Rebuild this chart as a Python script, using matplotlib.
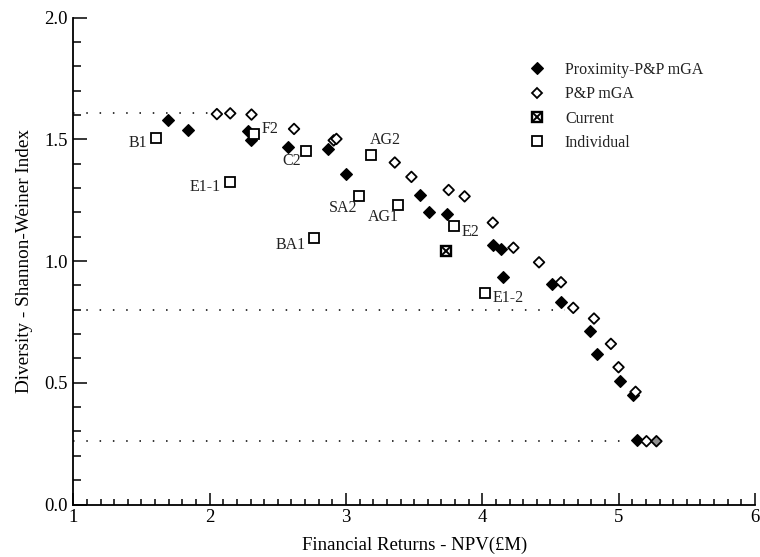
import matplotlib
matplotlib.use("Agg")
import matplotlib.pyplot as plt
from matplotlib.lines import Line2D
from matplotlib.legend_handler import HandlerTuple
from matplotlib.ticker import MultipleLocator

plt.rcParams['font.family'] = ['Liberation Serif', 'DejaVu Serif']

# ---- data ----
prox_x = [1.697, 1.839, 2.278, 2.302, 2.578, 2.868, 3.002, 3.546, 3.607, 3.741,
          4.075, 4.138, 4.150, 4.514, 4.577, 4.792, 4.838, 5.009, 5.106, 5.131]
prox_y = [1.581, 1.537, 1.533, 1.499, 1.467, 1.462, 1.358, 1.272, 1.202, 1.192,
          1.068, 1.048, 0.934, 0.904, 0.831, 0.712, 0.619, 0.509, 0.448, 0.264]

pp_x = [2.053, 2.151, 2.307, 2.619, 2.910, 2.930, 3.358, 3.480, 3.753, 3.870,
        4.077, 4.228, 4.416, 4.577, 4.667, 4.819, 4.943, 4.999, 5.124, 5.204, 5.277]
pp_y = [1.604, 1.607, 1.602, 1.543, 1.496, 1.502, 1.405, 1.346, 1.292, 1.266,
        1.158, 1.055, 0.995, 0.913, 0.808, 0.764, 0.660, 0.564, 0.463, 0.260, 0.260]

current_x = [3.734]
current_y = [1.043]

indiv_names = ['B1', 'E1-1', 'F2', 'C2', 'BA1', 'SA2', 'AG2', 'AG1', 'E2', 'E1-2']
indiv_x = [1.605, 2.149, 2.327, 2.709, 2.765, 3.097, 3.180, 3.380, 3.790, 4.016]
indiv_y = [1.504, 1.324, 1.521, 1.451, 1.095, 1.268, 1.436, 1.231, 1.145, 0.867]

# reference (dotted) levels and their right-hand ends
ref_levels = [1.61, 0.80, 0.26]
ref_ends = [1.985, 4.607, 5.08]

x_ticks = [1, 2, 3, 4, 5, 6]
y_ticks = [0.0, 0.5, 1.0, 1.5, 2.0]

# ---- figure ----
fig = plt.figure(figsize=(7.6, 5.57), dpi=100)
ax = fig.add_axes([73.3 / 760, (557 - 504.5) / 557, (755 - 73.3) / 760, (504.5 - 17.7) / 557])

for lvl, end in zip(ref_levels, ref_ends):
    ax.plot([1, end], [lvl, lvl], color='black', lw=1.1, linestyle=(0, (1, 7.7)), zorder=1)

D_FILL = dict(marker='D', ms=5.8, mfc='black', mec='black', mew=0.8)
D_OPEN = dict(marker='D', ms=5.4, mfc='white', mec='black', mew=1.3)
SQ = dict(marker='s', ms=7.0, mfc='white', mec='black', mew=1.3)
SQ_CUR = dict(marker='s', ms=7.0, mfc='white', mec='black', mew=1.7)
X_CUR = dict(marker='x', ms=5.2, mec='black', mew=1.4)

ax.plot(prox_x, prox_y, linestyle='none', zorder=3, **D_FILL)
pp_face = ['white'] * (len(pp_x) - 1) + ['#909090']
ax.scatter(pp_x, pp_y, marker='D', s=5.4 ** 2, facecolors=pp_face, edgecolors='black',
           linewidths=1.3, zorder=4)
ax.plot(indiv_x, indiv_y, linestyle='none', zorder=3, **SQ)
ax.plot(current_x, current_y, linestyle='none', zorder=3, **SQ_CUR)
ax.plot(current_x, current_y, linestyle='none', zorder=4, **X_CUR)

label_offsets_px = {
    'B1': (-18, -4.6), 'E1-1': (-25, -5), 'F2': (16, 5.7), 'C2': (-14.7, -10),
    'BA1': (-23.3, -6.7), 'SA2': (-16, -12), 'AG2': (15, 14.6), 'AG1': (-14.6, -12),
    'E2': (16.7, -6), 'E1-2': (24, -4.3),
}
for name, x, y in zip(indiv_names, indiv_x, indiv_y):
    dx, dy = label_offsets_px[name]
    ax.annotate(name, (x, y), xytext=(dx * 0.72, dy * 0.72), textcoords='offset points',
                ha='center', va='center', fontsize=11.5, color='#222222')

ax.set_xlim(1, 6)
ax.set_ylim(0, 2.0)
ax.set_xticks(x_ticks)
ax.set_xticklabels([str(t) for t in x_ticks])
ax.set_yticks(y_ticks)
ax.set_yticklabels([f'{t:.1f}' for t in y_ticks])
ax.xaxis.set_minor_locator(MultipleLocator(0.1))
ax.yaxis.set_minor_locator(MultipleLocator(0.1))
ax.tick_params(axis='both', which='both', direction='in', width=1.1, labelsize=13.5,
               colors='black')
ax.tick_params(axis='x', which='major', length=9, pad=3)
ax.tick_params(axis='x', which='minor', length=4)
ax.tick_params(axis='y', which='major', length=10, pad=4)
ax.tick_params(axis='y', which='minor', length=5.5)
for s in ['top', 'right']:
    ax.spines[s].set_visible(False)
for s in ['left', 'bottom']:
    ax.spines[s].set_linewidth(1.3)

ax.set_xlabel('Financial Returns - NPV(£M)', fontsize=13.5, labelpad=8)
ax.set_ylabel('Diversity - Shannon-Weiner Index', fontsize=13.8, labelpad=8)

h_prox = Line2D([], [], linestyle='none', **D_FILL)
h_pp = Line2D([], [], linestyle='none', **D_OPEN)
h_cur_s = Line2D([], [], linestyle='none', **SQ_CUR)
h_cur_x = Line2D([], [], linestyle='none', **X_CUR)
h_ind = Line2D([], [], linestyle='none', **SQ)
leg = ax.legend([h_prox, h_pp, (h_cur_s, h_cur_x), h_ind],
                ['Proximity-P&P mGA', 'P&P mGA', 'Current', 'Individual'],
                handler_map={tuple: HandlerTuple(ndivide=1, pad=0)},
                loc='upper left', bbox_to_anchor=(529 / 760, 1 - 62 / 557),
                bbox_transform=fig.transFigure, frameon=False, fontsize=11.5,
                handlelength=1.0, handletextpad=1.25, labelspacing=0.52,
                borderpad=0, borderaxespad=0)
for t in leg.get_texts():
    t.set_color('#222222')

fig.savefig('out.png', dpi=100)
